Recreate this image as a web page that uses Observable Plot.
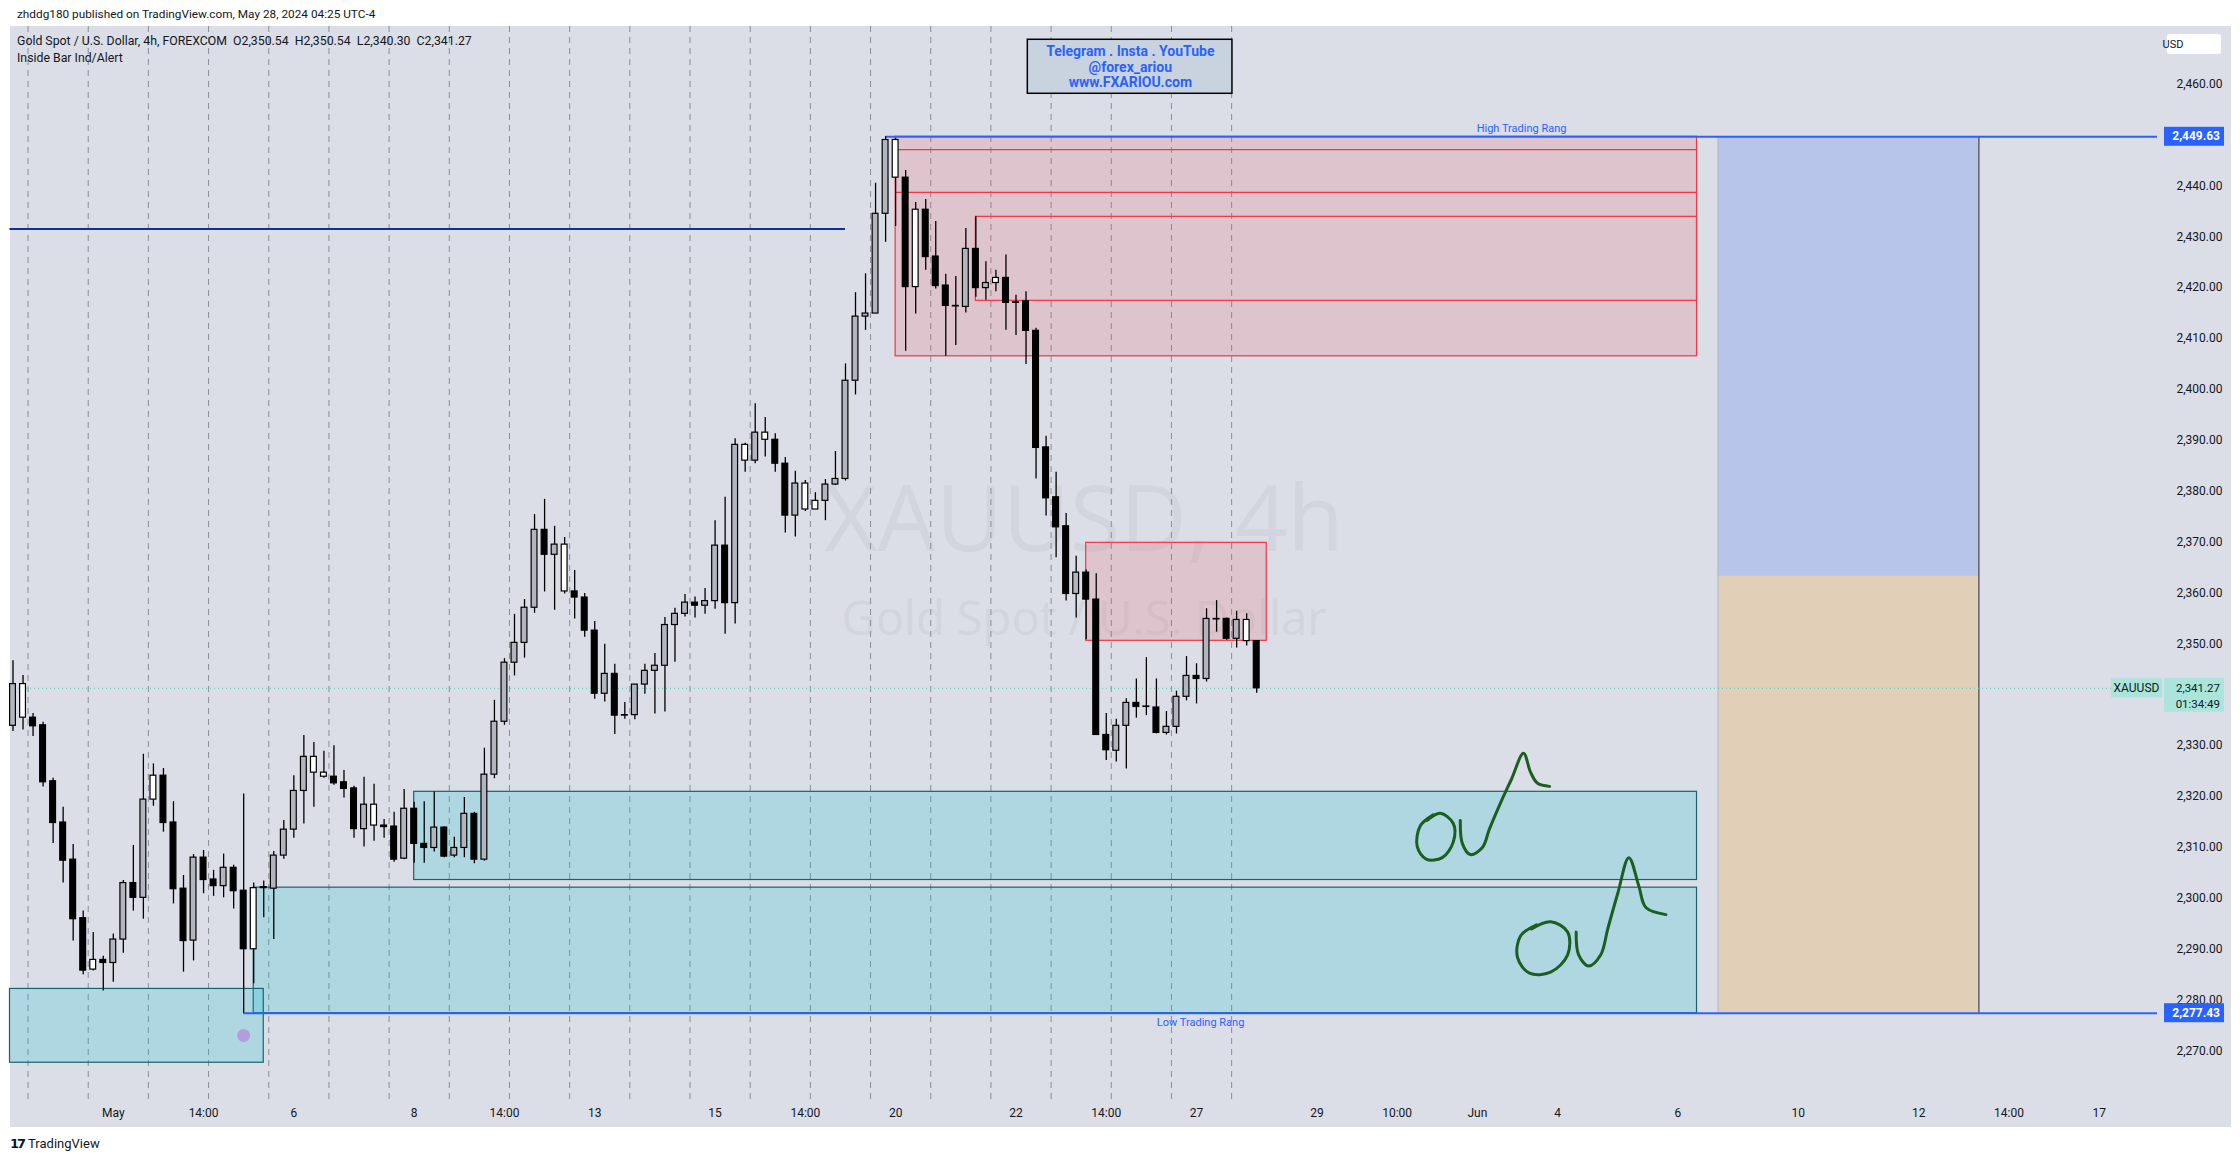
<!DOCTYPE html>
<html><head><meta charset="utf-8">
<script src="https://cdn.jsdelivr.net/npm/d3@7"></script>
<script src="https://cdn.jsdelivr.net/npm/@observablehq/plot@0.6"></script>
<style>
html,body{margin:0;padding:0;background:#fff;width:2240px;height:1163px;overflow:hidden;font-family:Roboto,"Noto Sans",sans-serif;color:#131722}
#pub{position:absolute;left:17px;top:6px;font-size:11.8px;line-height:16px;white-space:nowrap}
#chart{position:absolute;left:10px;top:26px}
#legend{position:absolute;left:17px;top:33px;font-size:12.3px;line-height:16.6px;white-space:nowrap}
#logo{position:absolute;left:10px;top:1136px;font-size:13px;white-space:nowrap}
#logo b{font-family:"DejaVu Sans";font-weight:900;letter-spacing:-2px;margin-right:4px}
</style></head><body>
<div id="pub">zhddg180 published on TradingView.com, May 28, 2024 04:25 UTC-4</div>
<div id="chart"></div>
<div id="legend">Gold Spot / U.S. Dollar, 4h, FOREXCOM&nbsp; O2,350.54&nbsp; H2,350.54&nbsp; L2,340.30&nbsp; C2,341.27<br>Inside Bar Ind/Alert</div>
<div id="logo"><b>17</b>TradingView</div>
<script>
// ---------- data: XAUUSD 4h candles (bar index 0..124) ----------
const open = [2333.9,2342.1,2335.5,2334.0,2323.0,2314.9,2307.6,2296.1,2286.0,2287.9,
2287.3,2291.9,2303.0,2300.1,2319.4,2324.1,2314.9,2301.9,2291.7,2308.0,
2303.7,2302.4,2306.0,2301.5,2290.0,2302.0,2301.9,2308.4,2313.5,2321.1,
2327.8,2324.7,2323.9,2322.8,2321.6,2313.6,2318.4,2314.3,2314.1,2307.8,
2317.6,2310.7,2309.9,2313.9,2308.4,2309.9,2316.6,2307.6,2324.3,2334.7,
2346.3,2350.2,2357.1,2372.4,2367.5,2369.5,2360.3,2359.1,2352.6,2340.2,
2344.1,2335.9,2336.0,2342.0,2344.7,2345.7,2353.7,2355.9,2358.1,2357.5,
2358.4,2369.3,2358.0,2389.1,2386.0,2391.5,2390.1,2385.4,2375.2,2381.5,
2376.4,2378.1,2381.3,2382.4,2401.7,2414.3,2414.9,2434.5,2449.0,2441.6,
2420.1,2435.3,2426.1,2420.4,2416.4,2416.2,2427.6,2419.9,2420.9,2421.9,
2417.0,2417.3,2411.5,2388.6,2378.8,2373.1,2359.8,2364.0,2358.7,2332.1,
2329.0,2333.9,2338.4,2337.6,2337.5,2332.5,2333.7,2339.6,2343.7,2343.1,
2354.9,2354.9,2351.0,2354.7,2350.54];
const high = [2346.7,2343.8,2336.3,2334.6,2323.6,2317.9,2310.6,2297.5,2293.3,2288.6,
2293.0,2303.5,2310.4,2328.3,2326.4,2325.5,2319.0,2304.5,2308.6,2309.4,
2305.5,2308.7,2306.5,2320.5,2303.0,2303.4,2309.2,2315.3,2324.1,2332.0,
2330.6,2328.9,2330.0,2325.1,2322.0,2323.8,2322.4,2315.5,2316.9,2321.4,
2318.9,2319.0,2320.9,2314.0,2312.0,2319.8,2316.9,2329.5,2338.9,2347.1,
2355.8,2358.7,2375.4,2378.4,2373.1,2370.9,2364.4,2359.9,2354.4,2349.9,
2346.0,2338.5,2342.0,2346.0,2348.1,2355.2,2357.0,2359.7,2359.2,2360.9,
2374.2,2378.8,2390.3,2389.4,2397.2,2394.5,2391.3,2386.6,2383.9,2382.1,
2379.7,2382.3,2387.8,2405.0,2419.0,2422.7,2440.5,2449.63,2449.3,2443.0,
2436.7,2437.3,2433.0,2422.6,2422.2,2431.6,2433.9,2425.1,2423.4,2426.4,
2418.5,2419.2,2412.0,2390.8,2383.7,2375.6,2367.2,2364.5,2363.8,2336.3,
2335.2,2339.2,2343.1,2347.3,2343.1,2336.7,2340.7,2347.5,2346.1,2356.9,
2358.5,2355.1,2356.4,2355.9,2350.54];
const low = [2332.8,2333.1,2331.8,2321.9,2310.8,2303.0,2291.6,2285.0,2285.7,2281.8,
2283.5,2289.2,2297.5,2295.9,2318.1,2313.0,2298.9,2285.5,2287.7,2300.9,
2300.4,2300.1,2297.9,2277.43,2283.2,2296.2,2291.9,2307.7,2311.8,2314.6,
2317.9,2323.6,2322.2,2319.7,2311.8,2310.1,2311.2,2311.8,2307.1,2307.6,
2306.9,2306.9,2309.1,2308.0,2308.0,2308.0,2306.8,2307.3,2323.5,2334.0,
2343.7,2347.2,2356.0,2360.2,2356.6,2359.8,2354.9,2351.3,2339.1,2338.6,
2332.2,2335.2,2335.1,2340.1,2336.2,2336.6,2346.4,2355.3,2355.1,2355.8,
2356.8,2351.9,2353.9,2383.7,2385.4,2386.7,2383.7,2371.8,2371.0,2376.0,
2376.4,2374.2,2381.1,2382.0,2398.9,2411.6,2414.9,2428.9,2432.0,2407.5,
2414.8,2423.4,2419.7,2406.5,2408.6,2415.0,2418.1,2417.5,2419.2,2411.6,
2410.6,2404.9,2382.4,2375.1,2366.9,2358.4,2355.1,2350.8,2332.0,2327.1,
2326.8,2325.4,2335.4,2335.9,2332.3,2332.1,2332.3,2338.8,2338.2,2342.5,
2352.3,2350.7,2349.2,2349.6,2340.30];
const close = [2342.1,2335.5,2333.8,2322.8,2314.8,2307.4,2295.9,2285.8,2287.9,2287.3,
2291.9,2303.0,2300.1,2319.4,2324.1,2314.8,2301.8,2291.6,2308.0,2303.6,
2302.4,2306.0,2301.4,2290.0,2302.0,2302.2,2308.4,2313.5,2321.1,2327.8,
2324.7,2323.9,2322.6,2321.5,2313.6,2318.4,2314.3,2314.0,2307.6,2317.6,
2310.7,2309.9,2313.9,2308.2,2309.9,2316.6,2307.6,2324.3,2334.7,2346.3,
2350.2,2357.1,2372.4,2367.5,2369.5,2360.3,2359.1,2352.6,2340.2,2344.1,
2335.9,2336.0,2342.0,2344.7,2345.7,2353.7,2355.9,2358.1,2357.5,2358.4,
2369.3,2358.0,2389.1,2386.0,2391.5,2390.1,2385.4,2375.2,2381.5,2376.4,
2378.1,2381.3,2382.4,2401.7,2414.3,2414.9,2434.5,2449.0,2441.6,2420.1,
2435.3,2426.0,2420.3,2416.4,2416.3,2427.6,2419.9,2420.9,2421.9,2417.0,
2417.1,2411.5,2388.5,2378.6,2372.9,2359.8,2364.0,2358.7,2332.1,2329.1,
2333.9,2338.4,2337.6,2337.7,2332.5,2333.7,2339.6,2343.7,2343.1,2354.9,
2354.8,2351.0,2354.7,2350.54,2341.27];
// bars flagged by the "Inside Bar Ind/Alert" indicator
const insideBars = [1,8,14,24,30,31,36,55,73,75,79,80,88,90,98,123];

// time axis (bar index -> label)
const timeTickIdx = [10,19,28,40,49,58,70,79,88,100,109,118,130,138,146,154,166,178,190,199,208];
const timeTickLabels = ["May","14:00","6","8","14:00","13","15","14:00","20","22","14:00","27","29","10:00","Jun","4","6","10","12","14:00","17"];
// session separators (every 6 bars)
const sessionBreaks = d3.range(1.5, 124, 6);
// price axis ticks (2,340.00 sits under the last-price badge)
const priceTicks = [2270,2280,2290,2300,2310,2320,2330,2350,2360,2370,2380,2390,2400,2410,2420,2430,2440,2450,2460];

// drawings
const supplyZones = [
  {x1: 88, x2: 167.9, y1: 2406.5, y2: 2449.63},
  {x1: 107, x2: 125, y1: 2350.6, y2: 2369.85}
];
const supplyInner = [ {x1: 96, x2: 167.9, y1: 2417.4, y2: 2433.9} ];
const supplyLines = [ {y: 2447.1, x1: 88, x2: 167.9}, {y: 2438.7, x1: 88, x2: 167.9} ];
const demandZones = [
  {x1: 40, x2: 167.9, y1: 2303.6, y2: 2320.93},
  {x1: 24, x2: 167.9, y1: 2277.43, y2: 2302.1},
  {x1: -0.3, x2: 25, y1: 2267.7, y2: 2282.2}
];
const rangeHigh = 2449.63, rangeLow = 2277.43, rangeHighStart = 87, rangeLowStart = 23;
const oldLevel = {y: 2431.5, x1: -0.3, x2: 83};
const position = {x1: 170, x2: 196, top: 2449.63, entry: 2363.3, bottom: 2277.43};
const lastPrice = 2341.27, countdown = "01:34:49";
const marker = [{i: 23, p: 2273.05}];
const infoBox = {x1: 101.18, x2: 121.58, y1: 2458.08, y2: 2468.69, xc: 111.4};
const infoLines = [
  {t: "Telegram . Insta . YouTube", p: 2466.3},
  {t: "@forex_ariou", p: 2463.2},
  {t: "www.FXARIOU.com", p: 2460.2}
];
// hand-drawn "OUT" annotations (bar index, price)
const ink = [
 [[141.6,2316.4],[140.3,2314.2],[140.0,2310.2],[140.9,2307.7],[142.5,2308.0],[143.6,2311.1],[143.6,2314.7],[142.3,2316.7],[141.0,2315.3]],
 [[144.3,2315.3],[144.5,2310.8],[145.3,2308.6],[146.5,2310.0],[147.2,2313.6],[148.3,2318.7],[149.4,2323.4],[150.6,2328.5],[151.3,2324.8],[152.0,2322.6],[153.2,2322.0]],
 [[151.9,2294.8],[150.3,2292.6],[150.0,2288.4],[151.2,2285.3],[153.3,2285.5],[155.0,2288.9],[155.0,2293.4],[153.3,2295.4],[151.4,2294.0]],
 [[155.85,2293.4],[156.1,2288.9],[157.1,2286.7],[158.3,2288.9],[159.0,2294.0],[160.0,2301.0],[161.1,2308.0],[162.1,2302.4],[162.8,2298.2],[164.8,2296.8]]
];

// ---------- build ----------
const candles = open.map((o, i) => ({i, open: o, high: high[i], low: low[i], close: close[i], inside: insideBars.includes(i)}));
const inkPts = ink.flatMap((s, k) => s.map(([i, p]) => ({i, p, s: k})));
const xDomain = [-0.249, 213.81];
const yDomain = [2260.28, 2471.30];
const fmt = d3.format(",.2f");
const tickLabel = new Map(timeTickIdx.map((d, k) => [d, timeTickLabels[k]]));
const bodyFill = d => d.inside ? "#ffffff" : (d.close >= d.open ? "#b2b5be" : "#000000");

function priceBadges(index, scales, values, dims) {
  const g = d3.create("svg:g").attr("font-family", "Roboto, sans-serif").attr("font-size", 12);
  const xr = dims.width - dims.marginRight;
  // currency box
  g.append("rect").attr("x", xr + 10).attr("y", 8).attr("width", 54).attr("height", 20).attr("rx", 3).attr("fill", "#ffffff");
  g.append("text").attr("x", xr + 16).attr("y", 18).attr("dy", "0.35em").attr("font-size", 11).attr("fill", "#131722").text("USD");
  for (const v of [rangeHigh, rangeLow]) {
    const y = scales.y(v);
    g.append("rect").attr("x", xr + 7).attr("y", y - 9.5).attr("width", 60).attr("height", 19).attr("fill", "#2962ff");
    g.append("text").attr("x", xr + 63).attr("y", y).attr("dy", "0.35em").attr("text-anchor", "end")
      .attr("fill", "#ffffff").attr("font-weight", "bold").text(fmt(v));
  }
  const y = scales.y(lastPrice);
  g.append("rect").attr("x", xr - 46).attr("y", y - 9.5).attr("width", 51).attr("height", 19).attr("fill", "#abe5da");
  g.append("text").attr("x", xr - 20.5).attr("y", y).attr("dy", "0.35em").attr("text-anchor", "middle").attr("fill", "#131722").text("XAUUSD");
  g.append("rect").attr("x", xr + 7).attr("y", y - 10).attr("width", 60).attr("height", 34).attr("fill", "#abe5da");
  g.append("text").attr("x", xr + 63).attr("y", y).attr("dy", "0.35em").attr("text-anchor", "end").attr("font-size", 11.5).attr("fill", "#131722").text(fmt(lastPrice));
  g.append("text").attr("x", xr + 63).attr("y", y + 16).attr("dy", "0.35em").attr("text-anchor", "end").attr("font-size", 11.5).attr("fill", "#131722").text(countdown);
  return g.node();
}

const chart = Plot.plot({
  width: 2221, height: 1101,
  marginTop: 0, marginRight: 74, marginBottom: 27, marginLeft: 0,
  x: {domain: xDomain},
  y: {domain: yDomain},
  style: {background: "#dbdee6", fontFamily: "Roboto, sans-serif", fontSize: "12px", color: "#131722", overflow: "visible"},
  marks: [
    // watermark
    Plot.text(["XAUUSD, 4h"], {frameAnchor: "middle", dy: -42, fontSize: 92, fill: "#d2d5dd", fontFamily: "Open Sans, sans-serif"}),
    Plot.text(["Gold Spot / U.S. Dollar"], {frameAnchor: "middle", dy: 56, fontSize: 47, fill: "#d2d5dd", fontFamily: "Open Sans, sans-serif"}),
    // session separators
    Plot.ruleX(sessionBreaks, {stroke: "#8a8e97", strokeWidth: 1, strokeDasharray: "6,5"}),
    // zones
    Plot.rect(demandZones, {x1: "x1", x2: "x2", y1: "y1", y2: "y2", fill: "rgba(0,188,212,0.2)", stroke: "#17646b", strokeWidth: 1.2}),
    Plot.rect(supplyZones, {x1: "x1", x2: "x2", y1: "y1", y2: "y2", fill: "rgba(242,54,69,0.15)", stroke: "#f23645", strokeWidth: 1.2}),
    Plot.rect(supplyInner, {x1: "x1", x2: "x2", y1: "y1", y2: "y2", fill: "none", stroke: "#f23645", strokeWidth: 1.2}),
    Plot.ruleY(supplyLines, {y: "y", x1: "x1", x2: "x2", stroke: "#f23645", strokeWidth: 1.2}),
    // long-position tool
    Plot.rect([position], {x1: "x1", x2: "x2", y1: "entry", y2: "top", fill: "rgba(41,98,255,0.2)"}),
    Plot.rect([position], {x1: "x1", x2: "x2", y1: "bottom", y2: "entry", fill: "rgba(255,152,0,0.2)"}),
    Plot.ruleX([position], {x: "x2", y1: "bottom", y2: "top", stroke: "#5d606b", strokeWidth: 1.5}),
    Plot.ruleX([position], {x: "x1", y1: "bottom", y2: "top", stroke: "#b4b7c0", strokeWidth: 1}),
    // levels
    Plot.ruleY([oldLevel], {y: "y", x1: "x1", x2: "x2", stroke: "#0c3299", strokeWidth: 2}),
    Plot.ruleY([lastPrice], {x1: xDomain[0], x2: xDomain[1] - 4.6, stroke: "#5cc9b4", strokeWidth: 1, strokeDasharray: "1,3"}),
    Plot.ruleY([rangeHigh], {x1: rangeHighStart, x2: xDomain[1], stroke: "#2962ff", strokeWidth: 2}),
    Plot.ruleY([rangeLow], {x1: rangeLowStart, x2: xDomain[1], stroke: "#2962ff", strokeWidth: 2}),
    Plot.text(["High Trading Rang"], {x: (rangeHighStart + xDomain[1]) / 2, y: rangeHigh, dy: -8, fill: "#2962ff", fontSize: 11}),
    Plot.text(["Low Trading Rang"], {x: (rangeLowStart + xDomain[1]) / 2, y: rangeLow, dy: 9, fill: "#2962ff", fontSize: 11}),
    Plot.dot(marker, {x: "i", y: "p", r: 6.5, fill: "#b39ddb"}),
    // candles
    Plot.ruleX(candles, {x: "i", y1: "low", y2: "high", stroke: "#000", strokeWidth: 1.3}),
    Plot.rect(candles, {x1: d => d.i - 0.29, x2: d => d.i + 0.29, y1: "open", y2: "close", fill: bodyFill, stroke: "#000", strokeWidth: 1.2}),
    // hand-drawn annotations
    Plot.line(inkPts, {x: "i", y: "p", z: "s", stroke: "#1b5e20", strokeWidth: 3, curve: "catmull-rom", strokeLinecap: "round"}),
    // info box
    Plot.rect([infoBox], {x1: "x1", x2: "x2", y1: "y1", y2: "y2", fill: "#c8d3df", stroke: "#000", strokeWidth: 1.5}),
    Plot.text(infoLines, {x: infoBox.xc, y: "p", text: "t", fill: "#2962ff", fontWeight: "bold", fontSize: 14}),
    // axes
    Plot.axisY({anchor: "right", ticks: priceTicks, tickSize: 0, tickPadding: 5, dx: 60, textAnchor: "end", tickFormat: fmt, fontSize: 12, fill: "#131722"}),
    Plot.axisX({ticks: timeTickIdx, tickSize: 0, tickPadding: 8, tickFormat: d => tickLabel.get(d), fontSize: 12, fill: "#131722"}),
    priceBadges
  ]
});
document.getElementById("chart").append(chart);
</script>
</body></html>
